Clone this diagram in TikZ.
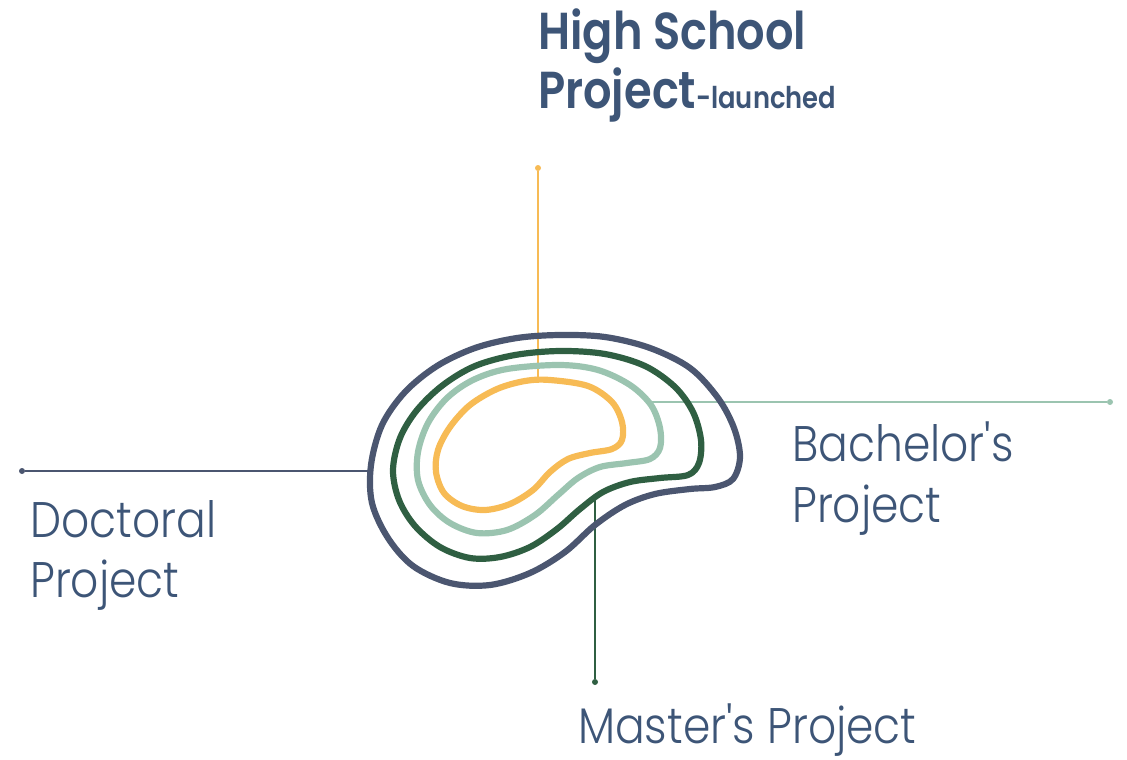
\documentclass[tikz,border=0pt]{standalone}
\usepackage{fontspec}
\newfontfamily\lightfont{Poppins Light}[FakeStretch=0.88]
\newfontfamily\boldfont{Poppins SemiBold}[FakeStretch=0.86]
\definecolor{slate}{HTML}{4B5670}
\definecolor{dgreen}{HTML}{2F5F42}
\definecolor{lgreen}{HTML}{9BC4B0}
\definecolor{yell}{HTML}{F7BB55}
\definecolor{txt}{HTML}{3D5577}
\begin{document}
\begin{tikzpicture}[x=1pt,y=-1pt,
  ring/.style={line width=6.2pt,line join=round},
  conn/.style={line width=1.6pt},
  enddot/.style={circle,inner sep=0pt,minimum size=6pt},
  lbl/.style={anchor=base west,inner sep=0pt,text=txt,font=\lightfont\fontsize{50}{60}\selectfont},
  ttl/.style={anchor=base west,inner sep=0pt,text=txt,font=\boldfont\fontsize{52}{60}\selectfont}]
\useasboundingbox (0,0) rectangle (1127,760);
% end points
\node[enddot,fill=yell] (dY) at (538,168) {};
\coordinate (cY) at (538,381);
\node[enddot,fill=lgreen] (dB) at (1110,402) {};
\coordinate (cB) at (652,402);
\node[enddot,fill=slate] (dD) at (22,471) {};
\coordinate (cD) at (370,471);
\node[enddot,fill=dgreen] (dM) at (595,682) {};
\coordinate (cM) at (595,497);
% connectors
\draw[conn,yell] (dY) -- (cY);
\draw[conn,lgreen] (dB) -- (cB);
\draw[conn,slate] (dD) -- (cD);
\draw[conn,dgreen] (dM) -- (cM);
% rings
\draw[ring,slate] plot[smooth cycle,tension=0.55] coordinates {
 (560,335) (605,337) (650,348) (690,368) (718,398) (734,428) (740,457) (733,479)
 (715,487) (690,489) (655,494) (625,505) (595,525) (565,552) (530,573) (490,585)
 (450,583) (413,566) (388,538) (372,503) (371,465) (382,425) (405,392) (437,366)
 (475,348) (517,338)};
\draw[ring,dgreen] plot[smooth cycle,tension=0.55] coordinates {
 (560,351) (605,354) (645,366) (675,387) (693,412) (701,440) (699,463) (688,475)
 (660,478) (630,482) (603,492) (580,509) (557,529) (530,547) (500,557) (470,558)
 (440,547) (415,526) (399,500) (393,470) (400,438) (417,410) (443,385) (475,366)
 (515,355)};
\draw[ring,lgreen] plot[smooth cycle,tension=0.55] coordinates {
 (560,365) (598,370) (630,385) (651,405) (660,428) (660,448) (650,459) (627,463)
 (600,467) (578,478) (558,495) (535,515) (507,530) (477,533) (450,523) (430,505)
 (418,480) (418,452) (428,423) (447,398) (473,380) (507,369)};
\draw[ring,yell] plot[smooth cycle,tension=0.55] coordinates {
 (550,380) (588,386) (612,402) (622,422) (622,440) (612,449) (590,453) (568,459)
 (550,472) (533,490) (510,504) (485,510) (462,506) (444,493) (436,472) (438,450)
 (450,427) (470,405) (497,389) (525,381)};
% labels
\node[ttl] (t1) at (538,50) {High School};
\node[ttl] (t2) at (538,108) {Project\fontsize{30}{36}\selectfont-launched};
\node[lbl] (d1) at (30,537) {Doctoral};
\node[lbl] (d2) at (30,597) {Project};
\node[lbl] (b1) at (792,461) {Bachelor's};
\node[lbl] (b2) at (792,522) {Project};
\node[lbl] (m1) at (578,743) {Master's Project};
\end{tikzpicture}
\end{document}
